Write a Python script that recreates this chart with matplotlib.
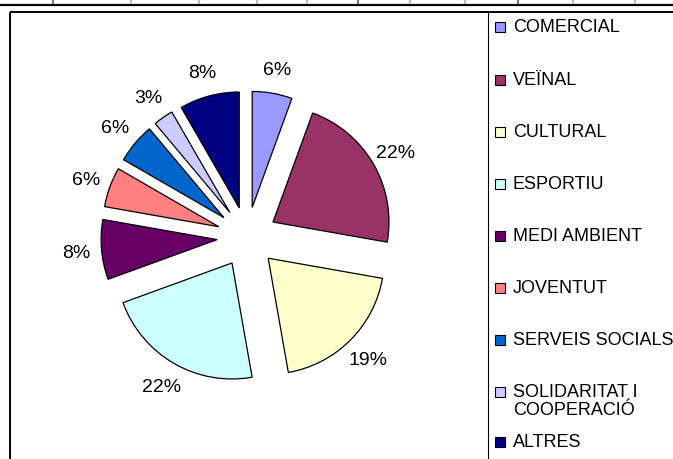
import matplotlib
matplotlib.use("Agg")
import matplotlib.pyplot as plt
from matplotlib.patches import Rectangle

plt.rcParams['font.family'] = ['Liberation Sans', 'DejaVu Sans']

# dades
categories = ["COMERCIAL", "VEÏNAL", "CULTURAL", "ESPORTIU", "MEDI AMBIENT",
              "JOVENTUT", "SERVEIS SOCIALS", "SOLIDARITAT I\nCOOPERACIÓ", "ALTRES"]
counts = [2, 8, 7, 8, 3, 2, 2, 1, 3]
colors = ["#9999FF", "#993366", "#FFFFCC", "#CCFFFF", "#660066",
          "#FF8080", "#0066CC", "#CCCCFF", "#000080"]

W, H = 673, 459
fig = plt.figure(figsize=(W / 100, H / 100), dpi=100)
ax = fig.add_axes([0, 0, 1, 1])

# pastis (coordenades en pixels, y cap amunt); explode va en unitats de dades
cx, cy, r = 247, H - 237, 116
wedges, texts, autotexts = ax.pie(
    counts, colors=colors, startangle=90, counterclock=False,
    explode=[30] * len(counts), center=(cx, cy), radius=r,
    autopct=lambda p: "%.0f%%" % p, pctdistance=1.22,
    wedgeprops=dict(edgecolor="black", linewidth=0.9),
    textprops=dict(fontsize=14, color="black"))
for t in autotexts:
    t.set_va("center_baseline")
ax.set_xlim(0, W)
ax.set_ylim(0, H)
ax.set_aspect("auto")
ax.axis("off")

# marc de la grafica i llegenda
ax.plot([0, W], [H - 5, H - 5], color="black", lw=1.6, solid_capstyle="butt")
for x, c in [(53, "#777777"), (131, "#bbbbbb"), (199, "#bbbbbb"), (257, "#bbbbbb"),
             (307, "#bbbbbb"), (358, "#777777"), (410, "#bbbbbb"), (465, "#bbbbbb"),
             (518, "#777777"), (573, "#bbbbbb"), (635, "#bbbbbb")]:
    ax.plot([x, x], [H, H - 4], color=c, lw=1.6, solid_capstyle="butt")
ax.plot([10, W], [H - 12, H - 12], color="black", lw=1.4, solid_capstyle="butt")
ax.plot([10, 10], [0, H - 12], color="black", lw=1.4, solid_capstyle="butt")
ax.plot([488, 488], [0, H - 12], color="black", lw=0.8, solid_capstyle="butt")

# llegenda feta a ma (l'ultima entrada queda mes junta, com a l'original)
leg_y = [27, 80, 132, 184, 236, 288, 340, 392, 442]
for lab, col, y in zip(categories, colors, leg_y):
    yy = H - y
    ax.add_patch(Rectangle((495, yy - 5), 10, 10, facecolor=col,
                           edgecolor="black", lw=0.8))
    ax.text(513, yy + 8, lab, fontsize=13, va="top", ha="left",
            linespacing=1.1)

fig.savefig("out.png", dpi=100)
